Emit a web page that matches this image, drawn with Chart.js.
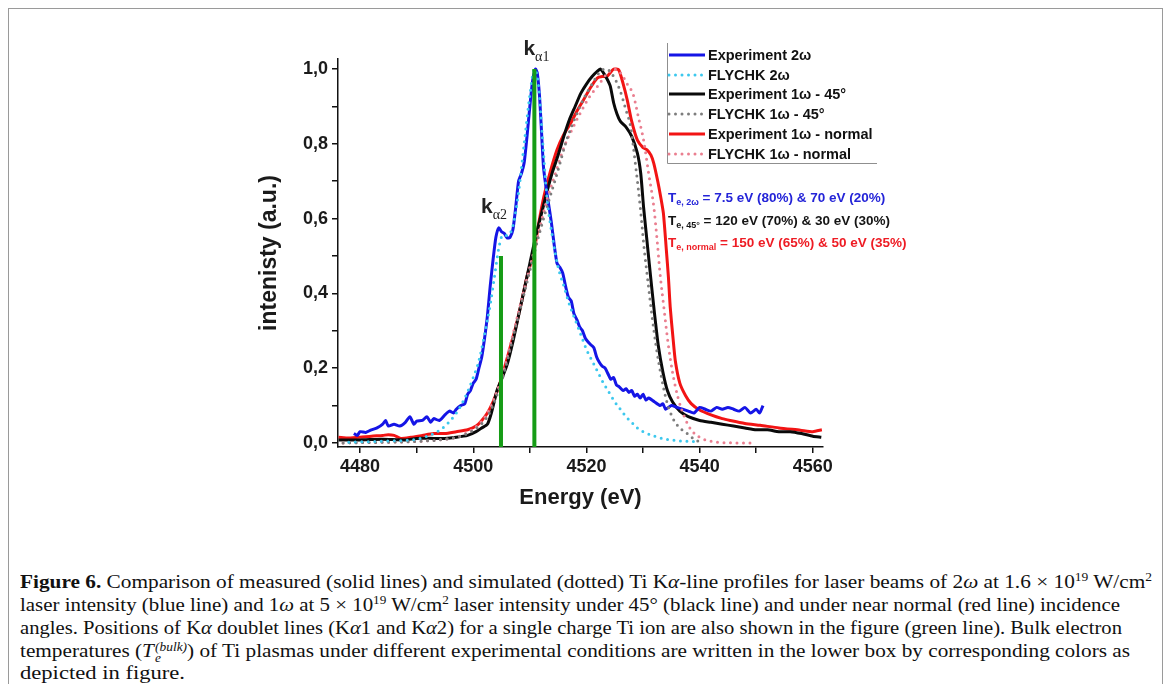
<!DOCTYPE html>
<html>
<head>
<meta charset="utf-8">
<title>Ti K-alpha line profiles</title>
<script src="https://cdn.jsdelivr.net/npm/chart.js@4.4.5/dist/chart.umd.min.js"></script>
<style>
    body { margin: 0; width: 1170px; height: 684px; background: #fff; position: relative; overflow: hidden; }
    #frame { position: absolute; left: 8px; top: 8px; width: 1155px; height: 720px; border: 1px solid #9a9a9a; box-sizing: border-box; }
    #chartBox { position: absolute; left: 0; top: 0; width: 1170px; height: 520px; }
    .cap { position: absolute; left: 20px; white-space: nowrap; font-family: "Liberation Serif", serif; font-size: 19px; line-height: 22px; color: #111; transform-origin: 0 50%; }
    .cap sup { font-size: 12px; position: relative; top: -7px; vertical-align: baseline; line-height: 0; }
    .cap .ss { display: inline-block; vertical-align: -5px; line-height: 11px; font-size: 12px; font-style: italic; margin-left: 1px; }
    .cap .ss span { display: block; }
</style>
</head>
<body>
<div id="frame"></div>
<div id="chartBox"><canvas id="kalpha" width="1170" height="520"></canvas></div>

<div class="cap" id="c1" style="top:571px"><b>Figure 6.</b> Comparison of measured (solid lines) and simulated (dotted) Ti K<i>α</i>-line profiles for laser beams of 2<i>ω</i> at 1.6 × 10<sup>19</sup> W/cm<sup>2</sup></div>
<div class="cap" id="c2" style="top:594px">laser intensity (blue line) and 1<i>ω</i> at 5 × 10<sup>19</sup> W/cm<sup>2</sup> laser intensity under 45° (black line) and under near normal (red line) incidence</div>
<div class="cap" id="c3" style="top:617px">angles. Positions of K<i>α</i> doublet lines (K<i>α</i>1 and K<i>α</i>2) for a single charge Ti ion are also shown in the figure (green line). Bulk electron</div>
<div class="cap" id="c4" style="top:640px">temperatures (<i>T</i><span class="ss"><span>(bulk)</span><span>e</span></span>) of Ti plasmas under different experimental conditions are written in the lower box by corresponding colors as</div>
<div class="cap" id="c5" style="top:662px">depicted in figure.</div>

<script>
    // ---- data (energy in eV, normalised intensity) ----
    const expBlueE = [4478.9, 4479.5, 4480, 4481, 4482, 4483, 4484, 4484.5, 4485, 4486, 4487, 4488, 4488.8, 4489.5, 4490, 4491, 4491.8, 4492.5, 4493, 4494, 4495, 4495.8, 4496.5, 4497, 4497.8, 4498.5, 4499, 4499.5, 4500, 4500.5, 4501, 4501.5, 4502, 4502.5, 4503, 4503.5, 4504, 4504.5, 4505, 4505.5, 4506, 4506.5, 4507, 4507.5, 4508, 4508.5, 4509, 4509.5, 4510, 4510.5, 4511, 4511.3, 4511.7, 4512, 4512.4, 4512.8, 4513.3, 4513.8, 4514.3, 4514.8, 4515.3, 4515.8, 4516.3, 4516.8, 4517.3, 4517.8, 4518.3, 4518.8, 4519.3, 4519.8, 4520.3, 4520.8, 4521.3, 4521.8, 4522.3, 4522.8, 4523.3, 4523.8, 4524.3, 4524.8, 4525.3, 4525.8, 4526.5, 4527, 4527.5, 4528, 4528.5, 4529, 4529.5, 4530, 4530.5, 4531, 4532, 4533, 4533.5, 4534, 4535, 4536, 4537, 4538, 4539, 4540, 4541, 4542, 4543, 4544, 4545, 4546, 4547, 4548, 4549, 4550, 4550.6, 4551.2];
    const expBlueI = [0.025, 0.02, 0.03, 0.028, 0.035, 0.04, 0.05, 0.06, 0.045, 0.05, 0.045, 0.055, 0.07, 0.05, 0.058, 0.06, 0.07, 0.055, 0.065, 0.06, 0.075, 0.085, 0.08, 0.09, 0.1, 0.105, 0.13, 0.14, 0.16, 0.17, 0.2, 0.23, 0.28, 0.34, 0.42, 0.49, 0.55, 0.575, 0.565, 0.56, 0.548, 0.55, 0.57, 0.63, 0.7, 0.72, 0.75, 0.82, 0.9, 0.97, 1.0, 0.99, 0.93, 0.85, 0.74, 0.69, 0.64, 0.59, 0.53, 0.48, 0.47, 0.455, 0.42, 0.39, 0.38, 0.345, 0.33, 0.31, 0.3, 0.28, 0.27, 0.262, 0.255, 0.23, 0.215, 0.205, 0.2, 0.185, 0.17, 0.175, 0.155, 0.15, 0.14, 0.145, 0.135, 0.14, 0.125, 0.13, 0.12, 0.13, 0.115, 0.12, 0.11, 0.1, 0.105, 0.09, 0.1, 0.095, 0.09, 0.085, 0.08, 0.095, 0.09, 0.085, 0.095, 0.09, 0.095, 0.09, 0.085, 0.095, 0.08, 0.09, 0.08, 0.1];

    const simBlueE = [4478, 4485, 4490, 4493, 4495, 4497, 4498.5, 4500, 4501, 4502, 4503, 4503.8, 4504.5, 4505.2, 4506, 4507, 4508, 4509, 4510, 4510.8, 4511.5, 4512.3, 4513, 4514, 4515, 4516, 4517, 4518, 4519, 4520, 4521, 4522, 4523, 4524, 4525, 4526, 4527, 4528, 4529, 4530, 4532, 4534, 4536, 4538, 4540];
    const simBlueI = [0.002, 0.005, 0.01, 0.025, 0.045, 0.08, 0.12, 0.175, 0.22, 0.29, 0.37, 0.45, 0.52, 0.555, 0.555, 0.58, 0.67, 0.8, 0.93, 1.0, 0.96, 0.8, 0.66, 0.55, 0.47, 0.42, 0.37, 0.33, 0.29, 0.25, 0.22, 0.19, 0.16, 0.135, 0.11, 0.09, 0.07, 0.055, 0.04, 0.03, 0.018, 0.01, 0.006, 0.004, 0.003];

    const exp45E = [4476.2, 4480, 4484, 4488, 4490, 4493, 4495, 4497, 4499, 4500.5, 4501.5, 4502.5, 4503.2, 4504.2, 4505, 4506, 4507, 4508, 4509, 4510, 4511, 4512, 4513, 4514, 4515, 4516, 4517, 4518, 4519, 4520, 4521, 4522, 4522.5, 4523, 4523.6, 4524.2, 4524.8, 4525.4, 4526, 4527, 4528, 4529, 4529.6, 4530.1, 4530.7, 4531.3, 4532, 4532.7, 4533.5, 4534.3, 4535.2, 4536.5, 4538, 4540, 4542, 4544, 4546, 4548, 4550, 4552, 4554, 4556, 4558, 4560, 4561.5];
    const exp45I = [0.008, 0.008, 0.01, 0.008, 0.012, 0.012, 0.012, 0.015, 0.02, 0.03, 0.04, 0.05, 0.08, 0.14, 0.17, 0.21, 0.27, 0.34, 0.41, 0.48, 0.55, 0.61, 0.67, 0.725, 0.77, 0.82, 0.865, 0.9, 0.935, 0.96, 0.98, 0.995, 1.0, 0.99, 0.975, 0.955, 0.91, 0.88, 0.86, 0.845, 0.82, 0.775, 0.72, 0.63, 0.54, 0.45, 0.35, 0.26, 0.19, 0.14, 0.11, 0.085, 0.07, 0.06, 0.055, 0.05, 0.045, 0.04, 0.035, 0.035, 0.03, 0.03, 0.025, 0.018, 0.015];

    const sim45E = [4477, 4485, 4490, 4494, 4497, 4499, 4501, 4502.5, 4504, 4505.5, 4507, 4508.5, 4510, 4511.5, 4513, 4514.8, 4516.5, 4518, 4519.5, 4521, 4522.5, 4523.5, 4525, 4526, 4527, 4527.8, 4528.7, 4529.5, 4530.2, 4530.8, 4531.5, 4532.3, 4533.2, 4534.2, 4535.3, 4536.5, 4537.8, 4539, 4540];
    const sim45I = [0.0, 0.002, 0.004, 0.008, 0.015, 0.025, 0.045, 0.07, 0.12, 0.19, 0.28, 0.37, 0.46, 0.55, 0.63, 0.72, 0.81, 0.87, 0.92, 0.96, 0.995, 1.0, 0.975, 0.94, 0.89, 0.846, 0.74, 0.632, 0.52, 0.44, 0.35, 0.26, 0.18, 0.11, 0.065, 0.04, 0.025, 0.01, 0.003];

    const expNormE = [4476.2, 4478, 4480, 4482, 4484, 4485, 4486, 4487.2, 4489, 4491, 4493, 4495, 4497, 4499, 4500.5, 4501.5, 4502.5, 4503.5, 4504.5, 4505.5, 4506.5, 4507.5, 4508.5, 4509.5, 4510.7, 4511.6, 4512.5, 4513.6, 4514.8, 4516, 4517.2, 4518.4, 4519.5, 4520.7, 4521.9, 4522.8, 4523.6, 4524.2, 4524.8, 4525.7, 4526.5, 4527.2, 4528, 4529, 4530, 4530.7, 4531.4, 4531.9, 4532.6, 4533.1, 4533.6, 4534.1, 4534.5, 4534.8, 4535.3, 4535.7, 4536.5, 4537.5, 4538.5, 4540, 4542, 4544, 4545.4, 4548, 4550.7, 4554, 4557.8, 4560, 4561.6];
    const expNormI = [0.015, 0.013, 0.015, 0.018, 0.02, 0.022, 0.02, 0.012, 0.015, 0.02, 0.025, 0.025, 0.03, 0.035, 0.045, 0.06, 0.08, 0.11, 0.15, 0.2, 0.255, 0.31, 0.375, 0.445, 0.51, 0.59, 0.66, 0.725, 0.784, 0.825, 0.855, 0.89, 0.918, 0.95, 0.976, 0.98, 0.98, 0.99, 1.0, 0.998, 0.96, 0.918, 0.86, 0.81, 0.79, 0.784, 0.77, 0.748, 0.7, 0.66, 0.614, 0.52, 0.44, 0.364, 0.28, 0.22, 0.16, 0.127, 0.105, 0.088, 0.075, 0.065, 0.06, 0.052, 0.047, 0.04, 0.034, 0.03, 0.035];

    const simNormE = [4477, 4485, 4490, 4494, 4497, 4499, 4501, 4502.5, 4504, 4505.5, 4507, 4508.5, 4510, 4511.5, 4513, 4514.5, 4516, 4517.5, 4519, 4520.5, 4522, 4523.5, 4524.8, 4526, 4527.2, 4528.3, 4529.2, 4530.1, 4531, 4531.9, 4532.5, 4533, 4533.7, 4534.4, 4535.2, 4536.2, 4537.3, 4538.5, 4540, 4541.5, 4543, 4546, 4550];
    const simNormI = [0.0, 0.002, 0.004, 0.008, 0.015, 0.028, 0.05, 0.08, 0.13, 0.2, 0.29, 0.38, 0.47, 0.56, 0.65, 0.72, 0.79, 0.84, 0.885, 0.925, 0.955, 0.985, 1.0, 0.99, 0.96, 0.93, 0.87, 0.81, 0.72, 0.632, 0.54, 0.454, 0.36, 0.27, 0.19, 0.12, 0.07, 0.035, 0.015, 0.006, 0.002, 0.0, 0.0];

    // K-alpha doublet of singly charged Ti
    const kaNames = ['α2', 'α1'];
    const kaPos = [4504.9, 4510.8];
    const kaHeight = [0.5, 1.0];

    const seriesLabels = ['Experiment 2ω', 'FLYCHK 2ω', 'Experiment 1ω - 45°', 'FLYCHK 1ω - 45°', 'Experiment 1ω - normal', 'FLYCHK 1ω - normal'];
    const tempLabels = [
        ['e, 2ω', ' = 7.5 eV (80%) & 70 eV (20%)'],
        ['e, 45°', ' = 120 eV (70%) & 30 eV (30%)'],
        ['e, normal', ' = 150 eV (65%) & 50 eV (35%)']
    ];

    const xTickValues = [4480, 4490, 4500, 4510, 4520, 4530, 4540, 4550, 4560];
    const yTickValues = [0, 0.1, 0.2, 0.3, 0.4, 0.5, 0.6, 0.7, 0.8, 0.9, 1.0];
    const xMin = 4476.1, xMax = 4561.8, yMin = -0.011, yMax = 1.027;

    function pts(xs, ys) {
        return xs.map((x, i) => ({ x: x, y: ys[i] }));
    }

    const solid = (label, color, xs, ys, order) => ({
        label, data: pts(xs, ys), borderColor: color, backgroundColor: color,
        borderWidth: 3, pointRadius: 0, tension: 0.2, order
    });
    const dotted = (label, color, xs, ys, order) => ({
        label, data: pts(xs, ys), borderColor: color, backgroundColor: color,
        borderWidth: 3, borderDash: [0, 6.5], borderCapStyle: 'round',
        pointRadius: 0, cubicInterpolationMode: 'monotone', order
    });

    const datasets = [
        solid(seriesLabels[0], '#1515e6', expBlueE, expBlueI, 7),
        dotted(seriesLabels[1], '#3cc8ee', simBlueE, simBlueI, 3),
        solid(seriesLabels[2], '#0a0a0a', exp45E, exp45I, 8),
        dotted(seriesLabels[3], '#7d7d7d', sim45E, sim45I, 4),
        solid(seriesLabels[4], '#f21414', expNormE, expNormI, 9),
        dotted(seriesLabels[5], '#ea7f90', simNormE, simNormI, 5)
    ];
    // green doublet sticks, drawn from the axis floor to their height
    kaPos.forEach((p, i) => {
        datasets.push({
            label: 'K' + kaNames[i], data: [{ x: p, y: yMin }, { x: p, y: kaHeight[i] }],
            borderColor: '#169c16', borderWidth: 4, pointRadius: 0, order: 1
        });
    });

    // legend, temperature box and k-alpha labels
    const overlay = {
        id: 'overlay',
        afterDatasetsDraw(chart) {
            const ctx = chart.ctx;
            const xs = chart.scales.x, ys = chart.scales.y;
            ctx.save();

            // k alpha labels above the sticks
            const kOff = [[-20, -43], [-11, -10]];
            kaPos.forEach((p, i) => {
                const px = xs.getPixelForValue(p) + kOff[i][0];
                const py = (i === 1 ? 55 : ys.getPixelForValue(kaHeight[i]) + kOff[i][1]);
                ctx.fillStyle = '#222';
                ctx.font = 'bold 21px "Liberation Sans", Arial, sans-serif';
                ctx.textAlign = 'left';
                ctx.textBaseline = 'alphabetic';
                ctx.fillText('k', px, py);
                const kw = ctx.measureText('k').width;
                ctx.font = '14px "Liberation Serif", serif';
                ctx.fillText(kaNames[i], px + kw, py + 6);
            });

            // legend frame
            ctx.strokeStyle = '#8f8f8f';
            ctx.lineWidth = 1;
            ctx.beginPath();
            ctx.moveTo(667.5, 43);
            ctx.lineTo(667.5, 163.5);
            ctx.lineTo(877, 163.5);
            ctx.stroke();

            const rowY = [55, 75, 94, 114, 134, 154];
            chart.data.datasets.slice(0, 6).forEach((ds, i) => {
                ctx.beginPath();
                ctx.strokeStyle = ds.borderColor;
                ctx.lineWidth = 3;
                ctx.lineCap = ds.borderDash ? 'round' : 'butt';
                ctx.setLineDash(ds.borderDash || []);
                ctx.moveTo(669, rowY[i]);
                ctx.lineTo(705, rowY[i]);
                ctx.stroke();
                ctx.setLineDash([]);
                ctx.fillStyle = '#111';
                ctx.font = 'bold 14.5px "Liberation Sans", Arial, sans-serif';
                ctx.textBaseline = 'middle';
                ctx.fillText(ds.label, 708, rowY[i] + 1);
            });

            // electron temperatures
            const tColors = ['#2424d8', '#141414', '#ee1c24'];
            const tY = [202, 225, 247];
            tempLabels.forEach((t, i) => {
                let x = 668;
                ctx.fillStyle = tColors[i];
                ctx.textBaseline = 'alphabetic';
                ctx.font = 'bold 13.5px "Liberation Sans", Arial, sans-serif';
                ctx.fillText('T', x, tY[i]);
                x += ctx.measureText('T').width;
                ctx.font = 'bold 9px "Liberation Sans", Arial, sans-serif';
                ctx.fillText(t[0], x, tY[i] + 3);
                x += ctx.measureText(t[0]).width;
                ctx.font = 'bold 13.5px "Liberation Sans", Arial, sans-serif';
                ctx.fillText(t[1], x, tY[i]);
            });
            ctx.restore();
        }
    };

    const tickFont = { family: '"Liberation Sans", Arial, sans-serif', size: 18, weight: 'bold' };
    const titleFont = { family: '"Liberation Sans", Arial, sans-serif', size: 22, weight: 'bold' };

    new Chart(document.getElementById('kalpha'), {
        type: 'line',
        data: { datasets: datasets },
        options: {
            responsive: false,
            animation: false,
            devicePixelRatio: 1,
            layout: { padding: { left: 240, right: 347, top: 59, bottom: 0 } },
            plugins: { legend: { display: false }, tooltip: { enabled: false } },
            scales: {
                x: {
                    type: 'linear', min: xMin, max: xMax,
                    afterBuildTicks: s => { s.ticks = xTickValues.map(v => ({ value: v })); },
                    afterFit: s => { s.height = 73; },
                    border: { display: true, color: '#111', width: 1.5 },
                    grid: { drawOnChartArea: false, drawTicks: true, tickLength: 6, color: '#111', lineWidth: 1.5 },
                    ticks: {
                        color: '#1a1a1a', font: tickFont, padding: 3, maxRotation: 0, autoSkip: false,
                        callback: v => (Math.round(v) % 20 === 0 ? String(Math.round(v)) : '')
                    },
                    title: { display: true, text: 'Energy (eV)', color: '#1a1a1a', font: titleFont, padding: { top: 0, bottom: 9 } }
                },
                y: {
                    type: 'linear', min: yMin, max: yMax,
                    afterBuildTicks: s => { s.ticks = yTickValues.map(v => ({ value: v })); },
                    afterFit: s => { s.width = 98; },
                    border: { display: true, color: '#111', width: 1.5 },
                    grid: { drawOnChartArea: false, drawTicks: true, tickLength: 6, color: '#111', lineWidth: 1.5 },
                    ticks: {
                        color: '#1a1a1a', font: tickFont, padding: 4, autoSkip: false,
                        callback: v => (Math.round(v * 10) % 2 === 0 ? v.toFixed(1).replace('.', ',') : '')
                    },
                    title: { display: true, text: 'intenisty (a.u.)', color: '#1a1a1a', font: { family: titleFont.family, size: 23, weight: 'bold' }, padding: { top: 16, bottom: 0 } }
                }
            }
        },
        plugins: [overlay]
    });

    // stretch caption lines to the widths they have in the figure
    const capWidths = { c1: 1132, c2: 1100, c3: 1102, c4: 1110, c5: 165 };
    Object.keys(capWidths).forEach(id => {
        const el = document.getElementById(id);
        const w = el.getBoundingClientRect().width;
        el.style.transform = 'scaleX(' + (capWidths[id] / w) + ')';
    });
</script>
</body>
</html>
